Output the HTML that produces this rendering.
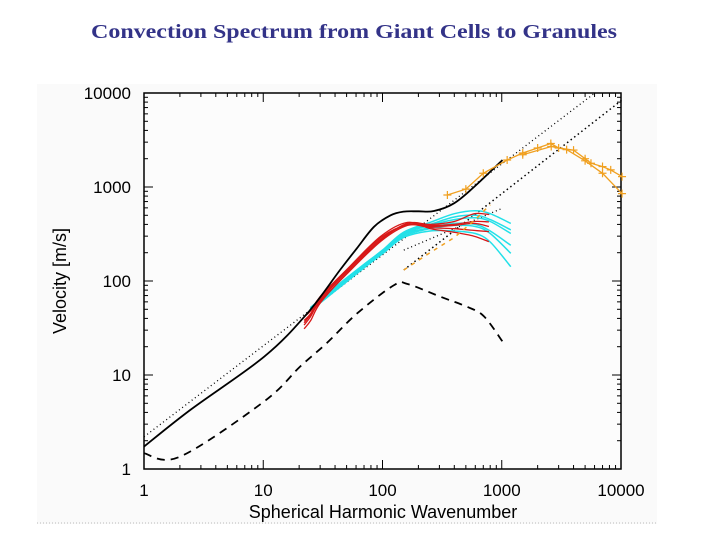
<!DOCTYPE html>
<html><head><meta charset="utf-8"><style>
html,body{margin:0;padding:0;background:#fff;width:720px;height:540px;overflow:hidden}
svg{display:block}
</style></head><body>
<svg id="chart" width="720" height="540" xmlns="http://www.w3.org/2000/svg">
<text x="354" y="38" text-anchor="middle" font-family="Liberation Serif, serif" font-weight="bold" font-size="20" fill="#333388" textLength="526" lengthAdjust="spacingAndGlyphs">Convection Spectrum from Giant Cells to Granules</text>
<rect x="37" y="84" width="620" height="440" fill="#fafafa"/>
<line x1="37" y1="523" x2="657" y2="523" stroke="#bbb" stroke-dasharray="1,2"/>
<g id="plot"></g>
</svg>
<script>
const xTicks=[1,10,100,1000,10000];
const xTickLabels=["1","10","100","1000","10000"];
const yTicks=[1,10,100,1000,10000];
const yTickLabels=["1","10","100","1000","10000"];
const solidL=[1,2.44,10.2,23.3,44,61,85,117,151,200,270,398,585,1014];
const solidV=[1.73,4.24,15.7,45,131,223,378,500,547,552,555,670,1000,1936];
const dashL=[1,2.0,10.1,20.4,34,61,125,162,306,515,710,1014];
const dashV=[1.47,1.35,5.2,12.3,21.8,45,90.5,93,68,53,42,22.7];
const dot1L=[1,5970];const dot1V=[2.2,9900];
const dot2L=[151,10200];const dot2V=[131,8430];
const dot3L=[151,1000];const dot3V=[213,590];
const redL=[22,25,30,50,97,162,253,400,585,780];
const redV=[[31,38,58,120,272,410,400,430,520,510],[34,42,62,125,280,400,390,400,430,425],[38,45,65,128,290,395,370,360,345,335],[42,48,68,132,300,420,360,330,300,262],[36,44,60,118,265,390,380,390,410,380]];
const cyanL=[24.8,40,70,100,150,250,400,600,800,1190];
const cyanV=[[51,85,150,213,330,420,520,560,520,410],[50,82,145,205,315,390,450,470,430,320],[49,80,140,200,300,360,390,380,320,197],[48,78,138,195,290,340,340,320,260,142],[52,86,150,210,325,400,480,500,450,350],[50,83,146,205,310,370,410,400,340,240]];
const oStarL=[350,500,700,1110,1500,2000,2580,3000,4000,5000,5600,7000,8200,10200];
const oStarV=[822,950,1400,1936,2300,2600,2900,2600,2470,2000,1790,1650,1520,1290];
const oStar2L=[1500,2600,3500,5000,7000,10200];
const oStar2V=[2200,2700,2500,1900,1400,850];
const oDashL=[151,250,400,600,800];
const oDashV=[131,200,290,450,650];

const X0=144,X1=621,Y0=469,Y1=93;
const lx=v=>X0+(Math.log10(v))/4*(X1-X0);
const ly=v=>Y0-(Math.log10(v))/4*(Y0-Y1);
const NS="http://www.w3.org/2000/svg";
const g=document.getElementById('plot');
function mk(t,a){const e=document.createElementNS(NS,t);for(const k in a)e.setAttribute(k,a[k]);g.appendChild(e);return e;}
function pts(L,V){return L.map((l,i)=>lx(l).toFixed(1)+','+ly(V[i]).toFixed(1)).join(' ');}
function smooth(L,V){const P=L.map((l,i)=>[lx(l),ly(V[i])]);let d=`M${P[0][0]},${P[0][1]}`;
 for(let i=0;i<P.length-1;i++){const p0=P[i-1]||P[i],p1=P[i],p2=P[i+1],p3=P[i+2]||P[i+1];
  const c1=[p1[0]+(p2[0]-p0[0])/6,p1[1]+(p2[1]-p0[1])/6],c2=[p2[0]-(p3[0]-p1[0])/6,p2[1]-(p3[1]-p1[1])/6];
  d+=`C${c1[0].toFixed(1)},${c1[1].toFixed(1)} ${c2[0].toFixed(1)},${c2[1].toFixed(1)} ${p2[0].toFixed(1)},${p2[1].toFixed(1)}`;}
 return d;}

let e=mk('rect',{x:X0,y:Y1,width:X1-X0,height:Y0-Y1,fill:'#fcfcfc',stroke:'#000','stroke-width':1.5});


for(let d=0;d<4;d++){for(let m=1;m<10;m++){const v=Math.pow(10,d)*m;const len=m===1?9:4;
 const x=lx(v);
 e=mk('line',{x1:x,y1:Y0,x2:x,y2:Y0-len,stroke:'#000'});
 e=mk('line',{x1:x,y1:Y1,x2:x,y2:Y1+len,stroke:'#000'});
 const y=ly(v);
 e=mk('line',{x1:X0,y1:y,x2:X0+len,y2:y,stroke:'#000'});
 e=mk('line',{x1:X1,y1:y,x2:X1-len,y2:y,stroke:'#000'});
}}
xTicks.forEach((v,i)=>{e=mk('text',{x:lx(v),y:496,'text-anchor':'middle','font-family':'Liberation Sans, sans-serif','font-size':17});e.textContent=xTickLabels[i];
 });
yTicks.forEach((v,i)=>{e=mk('text',{x:131,y:ly(v)+6,'text-anchor':'end','font-family':'Liberation Sans, sans-serif','font-size':17});e.textContent=yTickLabels[i];
 });
e=mk('text',{x:383,y:518,'text-anchor':'middle','font-family':'Liberation Sans, sans-serif','font-size':18});e.textContent='Spherical Harmonic Wavenumber';

e=mk('text',{x:66,y:281,'text-anchor':'middle','font-family':'Liberation Sans, sans-serif','font-size':18,transform:'rotate(-90 66 281)'});e.textContent='Velocity [m/s]';


e=mk('polyline',{points:pts(dot1L,dot1V),fill:'none',stroke:'#000','stroke-width':1.3,'stroke-dasharray':'1,3'});
e=mk('polyline',{points:pts(dot2L,dot2V),fill:'none',stroke:'#000','stroke-width':1.5,'stroke-dasharray':'1.5,3'});
e=mk('polyline',{points:pts(dot3L,dot3V),fill:'none',stroke:'#000','stroke-width':1.3,'stroke-dasharray':'1,3'});
cyanV.forEach(V=>{e=mk('path',{d:smooth(cyanL,V),fill:'none',stroke:'#22e0e8','stroke-width':1.5});});
redV.forEach(V=>{e=mk('path',{d:smooth(redL,V),fill:'none',stroke:'#d81818','stroke-width':1.3});});
e=mk('path',{d:smooth(solidL,solidV),fill:'none',stroke:'#000','stroke-width':1.8});
e=mk('path',{d:smooth(dashL,dashV),fill:'none',stroke:'#000','stroke-width':1.8,'stroke-dasharray':'8,6'});
e=mk('polyline',{points:pts(oDashL,oDashV),fill:'none',stroke:'#f0a020','stroke-width':1.5,'stroke-dasharray':'4,5'});
[[oStarL,oStarV],[oStar2L,oStar2V]].forEach(([L,V])=>{
 e=mk('polyline',{points:pts(L,V),fill:'none',stroke:'#f0a020','stroke-width':1.3});
 L.forEach((l,i)=>{const x=lx(l),y=ly(V[i]);
  e=mk('path',{d:`M${x-4},${y}H${x+4}M${x},${y-4}V${y+4}`,stroke:'#f0a020','stroke-width':1.2});});
});
</script>
</body></html>
